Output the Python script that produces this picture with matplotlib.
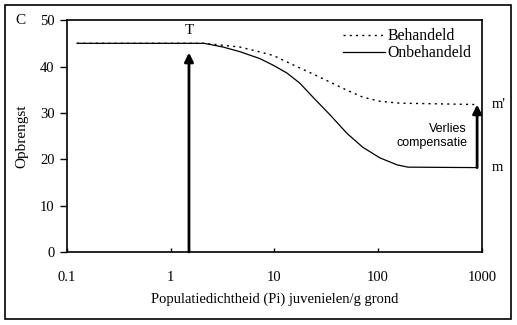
import numpy as np
import matplotlib.pyplot as plt
from matplotlib.patches import Rectangle

# opbrengst tegen populatiedichtheid (log-schaal)
dichtheid_beh = [0.125, 2.1, 4.65, 6.8, 9.7, 15, 24, 50, 71, 104, 160, 900]
opbrengst_beh = [45, 45, 44.2, 43.3, 42.4, 40.4, 38.3, 34.9, 33.4, 32.5, 32.1, 31.8]

dichtheid_onb = [0.125, 2.1, 3.2, 4.65, 7.25, 9.7, 13.2, 17.6, 23.5, 34.3,
                 50, 71, 104, 152, 194, 900]
opbrengst_onb = [45, 45, 44.2, 43.2, 41.7, 40.3, 38.6, 36.4, 33.4, 29.6,
                 25.6, 22.6, 20.3, 18.8, 18.3, 18.2]

x_ticks = [0.1, 1, 10, 100, 1000]
x_labels = ['0.1', '1', '10', '100', '1000']
y_ticks = [0, 10, 20, 30, 40, 50]

tolerantie_x = 1.5      # T
tolerantie_top = 43
m_x = 900
m_onder = 18.2
m_boven = 31.8

serif = 'Liberation Serif'
sans = 'Liberation Sans'

fig = plt.figure(figsize=(5.17, 3.25), dpi=100)
ax = fig.add_axes([0.1296, 0.2246, 0.8024, 0.7134])

ax.plot(dichtheid_beh, opbrengst_beh, color='black', lw=1.0,
        linestyle=(0, (1.5, 3)), label='Behandeld')
ax.plot(dichtheid_onb, opbrengst_onb, color='black', lw=0.9, label='Onbehandeld')

ax.set_xscale('log')
ax.set_xlim(0.1, 1000)
ax.set_ylim(0, 50)
ax.set_xticks(x_ticks)
ax.set_xticklabels(x_labels, fontfamily=serif, fontsize=10.5)
ax.set_yticks(y_ticks)
ax.set_yticklabels([str(v) for v in y_ticks], fontfamily=serif, fontsize=10.5)
ax.minorticks_off()
ax.tick_params(axis='x', direction='in', length=3, width=1, pad=14)
ax.tick_params(axis='y', direction='out', length=5, width=1, pad=4)
for s in ax.spines.values():
    s.set_linewidth(1.2)

ax.set_xlabel('Populatiedichtheid (Pi) juvenielen/g grond', fontfamily=serif,
              fontsize=10.5, labelpad=6)
ax.set_ylabel('Opbrengst', fontfamily=serif, fontsize=11, labelpad=8)

# pijlen
pijl = dict(arrowstyle='-|>', lw=2, color='black', mutation_scale=13,
            shrinkA=0, shrinkB=0)
ax.annotate('', xy=(tolerantie_x, tolerantie_top), xytext=(tolerantie_x, 0),
            arrowprops=pijl)
ax.annotate('', xy=(m_x, m_boven), xytext=(m_x, m_onder), arrowprops=pijl)

ax.text(tolerantie_x, 47.8, 'T', fontfamily=serif, fontsize=11,
        ha='center', va='center')
ax.text(1250, m_boven, "m'", fontfamily=serif, fontsize=10.5,
        ha='left', va='center', clip_on=False)
ax.text(1250, m_onder, 'm', fontfamily=serif, fontsize=10.5,
        ha='left', va='center', clip_on=False)
ax.text(720, 25, 'Verlies\ncompensatie', fontfamily=sans, fontsize=9,
        ha='right', va='center', linespacing=1.3)

ax.legend(loc='upper left', bbox_to_anchor=(0.665, 0.965), frameon=False,
          prop={'family': serif, 'size': 11.3}, handlelength=2.7,
          handletextpad=0.15, labelspacing=0.05, borderaxespad=0,
          borderpad=0)

fig.text(20 / 517, 1 - 20 / 325, 'C', fontfamily=serif, fontsize=11,
         ha='center', va='center')

# kader rond de hele figuur
fig.patches.append(Rectangle((5 / 517, 6 / 325), 506 / 517, 314 / 325,
                             transform=fig.transFigure, fill=False,
                             edgecolor='black', lw=1.2))

fig.savefig('out.png', dpi=100)
